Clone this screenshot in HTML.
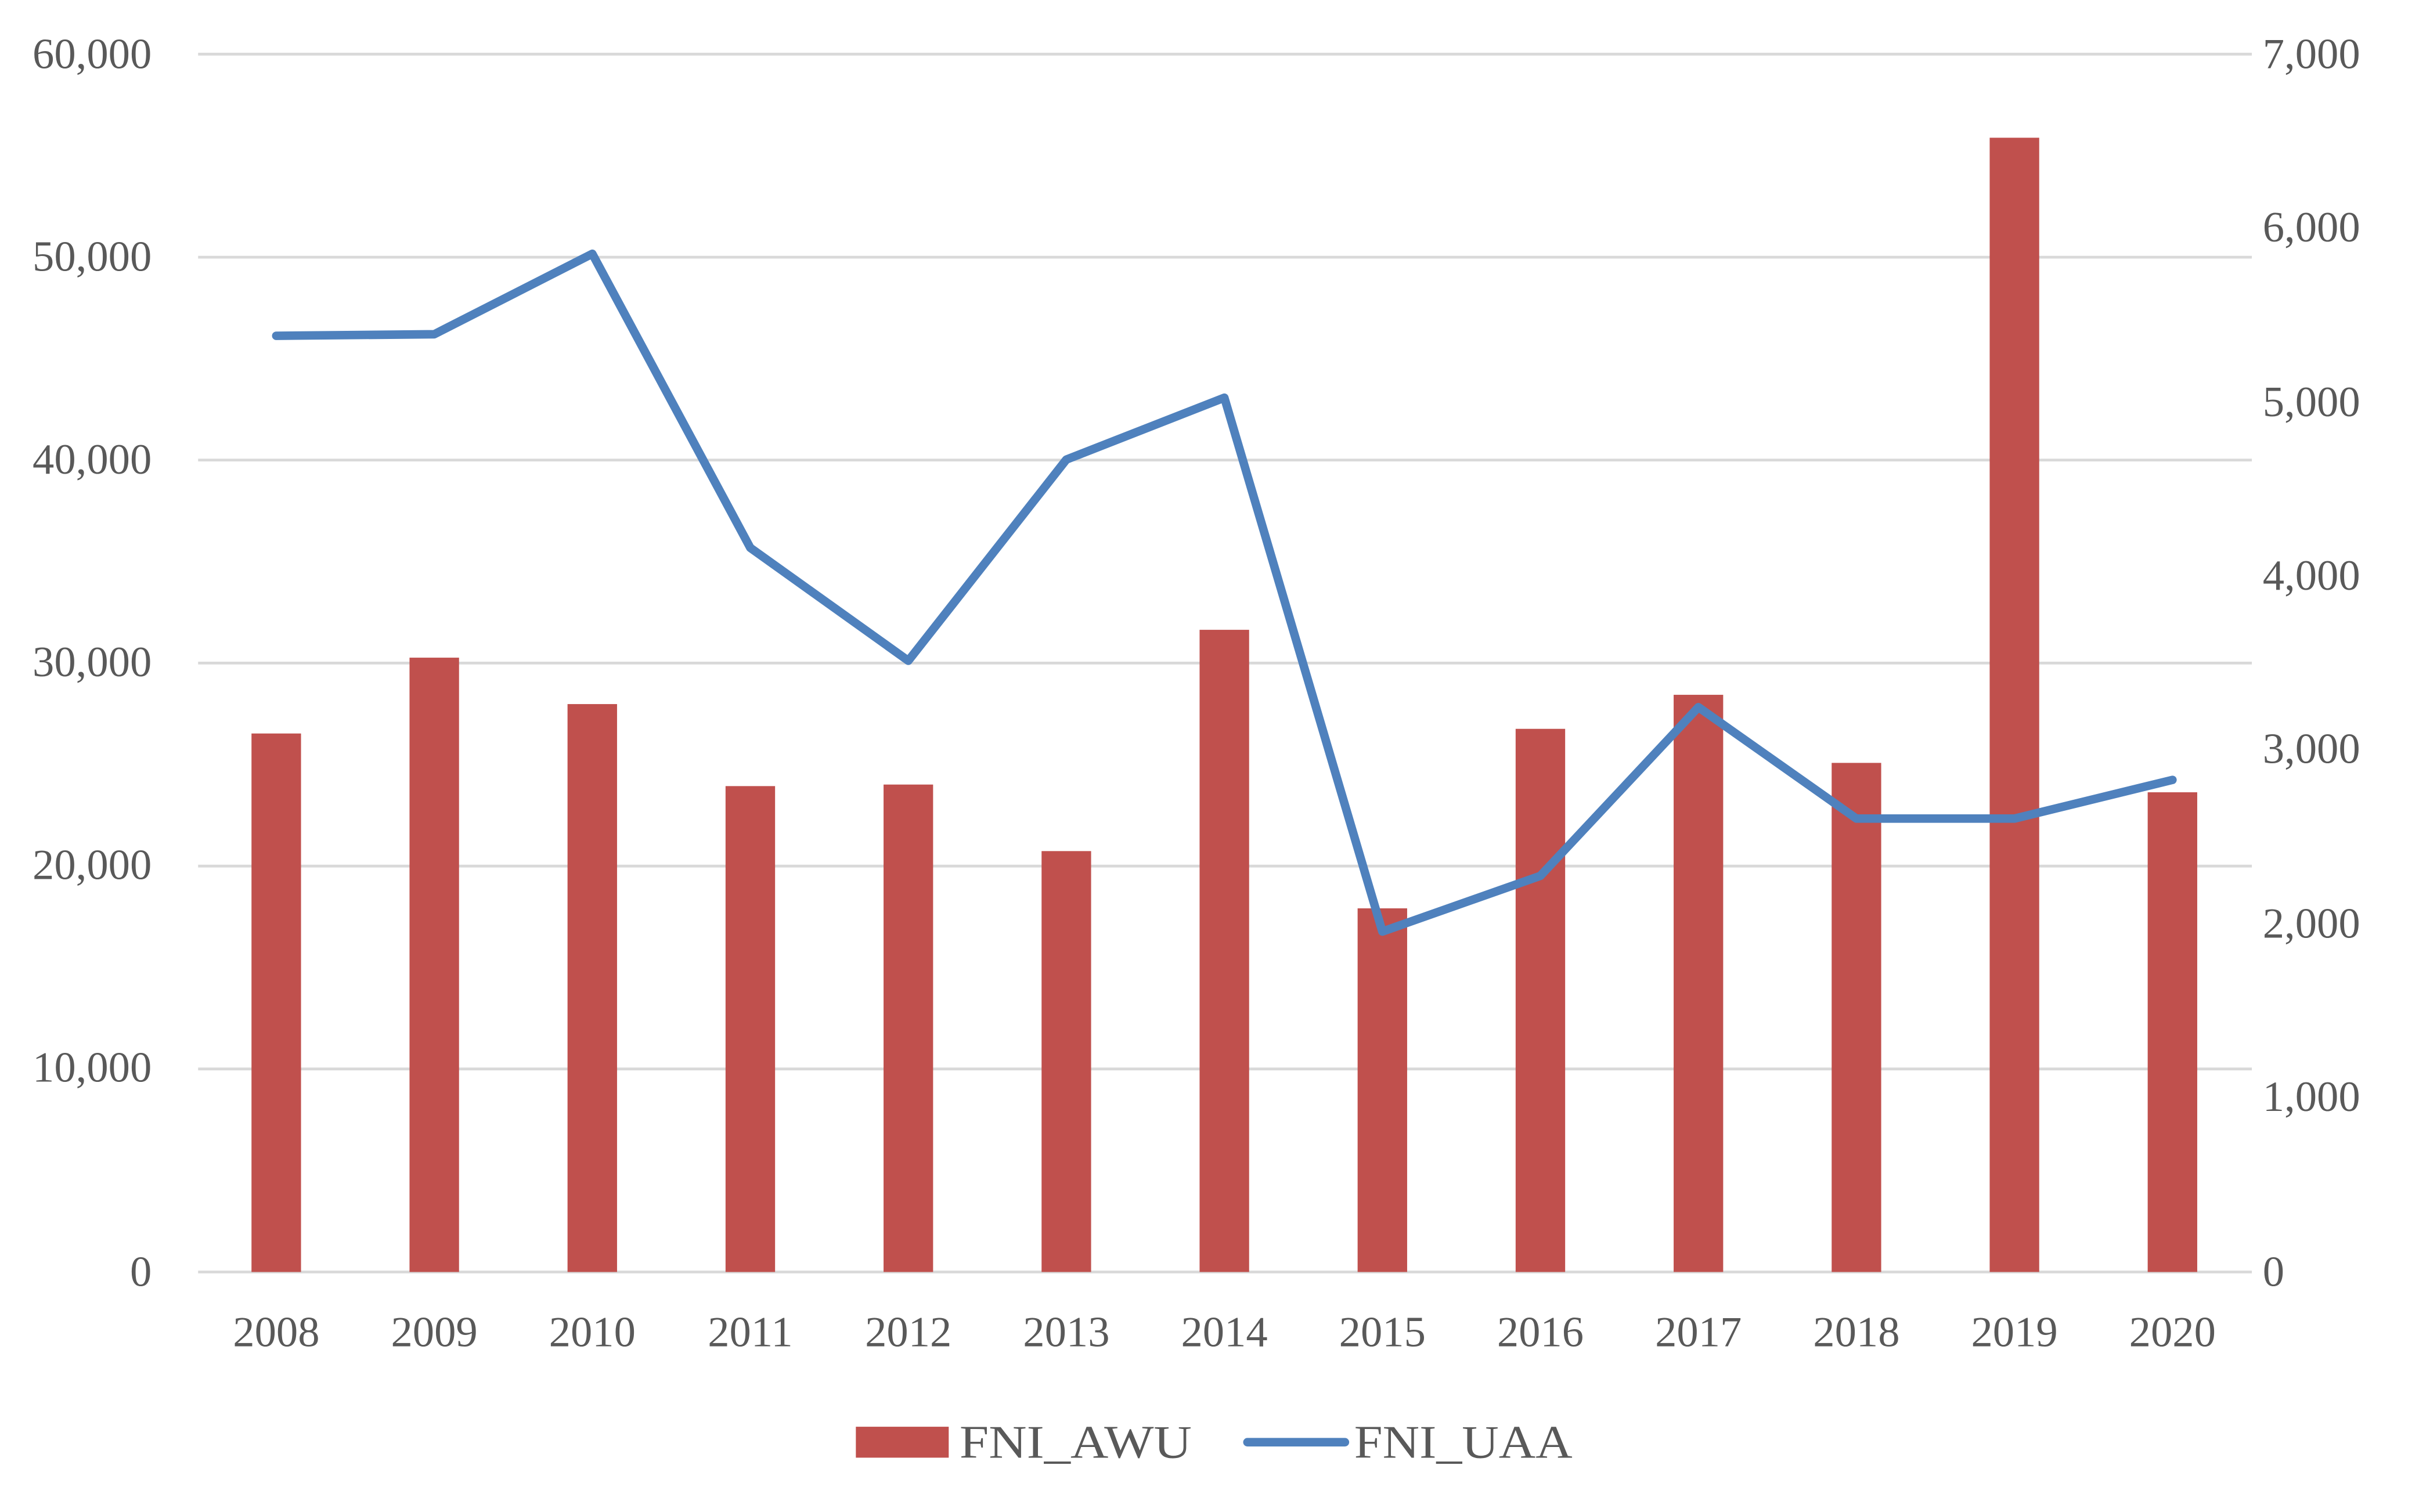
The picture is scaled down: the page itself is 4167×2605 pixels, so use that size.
<!DOCTYPE html>
<html><head><meta charset="utf-8"><style>html,body{margin:0;padding:0;background:#fff}svg{display:block}</style></head>
<body>
<svg width="4167" height="2605" viewBox="0 0 1563 977.1" xmlns="http://www.w3.org/2000/svg" font-family="'Liberation Serif', serif" fill="#595959">
<rect width="1563" height="977.1" fill="#fff"/>
<g stroke="#d9d9d9" stroke-width="1.8">
<line x1="128" x2="1455" y1="35" y2="35"/>
<line x1="128" x2="1455" y1="166.2" y2="166.2"/>
<line x1="128" x2="1455" y1="297.3" y2="297.3"/>
<line x1="128" x2="1455" y1="428.5" y2="428.5"/>
<line x1="128" x2="1455" y1="559.7" y2="559.7"/>
<line x1="128" x2="1455" y1="690.8" y2="690.8"/>
<line x1="128" x2="1455" y1="822" y2="822"/>
</g>
<g font-size="28" text-anchor="end">
<text x="98" y="44">60,000</text>
<text x="98" y="175">50,000</text>
<text x="98" y="306">40,000</text>
<text x="98" y="437">30,000</text>
<text x="98" y="568">20,000</text>
<text x="98" y="699">10,000</text>
<text x="98" y="831">0</text>
</g>
<g font-size="28" text-anchor="start">
<text x="1462" y="44">7,000</text>
<text x="1462" y="156">6,000</text>
<text x="1462" y="269">5,000</text>
<text x="1462" y="381">4,000</text>
<text x="1462" y="493">3,000</text>
<text x="1462" y="606">2,000</text>
<text x="1462" y="718">1,000</text>
<text x="1462" y="831">0</text>
</g>
<g fill="#c0504d">
<rect x="162.5" y="474" width="32" height="348"/>
<rect x="264.6" y="425" width="32" height="397"/>
<rect x="366.7" y="455" width="32" height="367"/>
<rect x="468.8" y="508" width="32" height="314"/>
<rect x="570.9" y="507" width="32" height="315"/>
<rect x="673" y="550" width="32" height="272"/>
<rect x="775.1" y="407" width="32" height="415"/>
<rect x="877.2" y="587" width="32" height="235"/>
<rect x="979.3" y="471" width="32" height="351"/>
<rect x="1081.4" y="449" width="32" height="373"/>
<rect x="1183.5" y="493" width="32" height="329"/>
<rect x="1285.6" y="89" width="32" height="733"/>
<rect x="1387.7" y="512" width="32" height="310"/>
</g>
<polyline fill="none" stroke="#4f81bd" stroke-width="5.5" stroke-linecap="round" stroke-linejoin="round"
points="178.5,217 280.6,216 382.7,164 484.8,354 586.9,427 689,297 791.1,257 893.2,602 995.3,566 1097.4,457 1199.5,529 1301.6,529 1403.7,504"/>
<g font-size="28" text-anchor="middle">
<text x="178.5" y="870">2008</text>
<text x="280.6" y="870">2009</text>
<text x="382.7" y="870">2010</text>
<text x="484.8" y="870">2011</text>
<text x="586.9" y="870">2012</text>
<text x="689" y="870">2013</text>
<text x="791.1" y="870">2014</text>
<text x="893.2" y="870">2015</text>
<text x="995.3" y="870">2016</text>
<text x="1097.4" y="870">2017</text>
<text x="1199.5" y="870">2018</text>
<text x="1301.6" y="870">2019</text>
<text x="1403.7" y="870">2020</text>
</g>
<rect x="553" y="922" width="60" height="20" fill="#c0504d"/>
<text x="620" y="942" font-size="30" textLength="150" lengthAdjust="spacingAndGlyphs">FNI_AWU</text>
<line x1="806" x2="869" y1="932" y2="932" stroke="#4f81bd" stroke-width="5.5" stroke-linecap="round"/>
<text x="875" y="942" font-size="30" textLength="141" lengthAdjust="spacingAndGlyphs">FNI_UAA</text>
</svg>
</body></html>
